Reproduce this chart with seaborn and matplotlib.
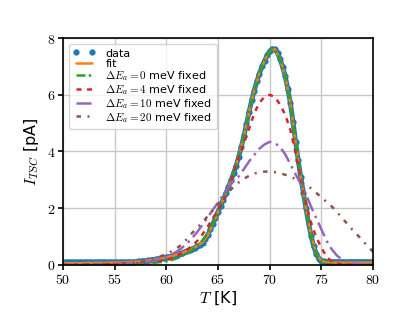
import numpy as np
import matplotlib
matplotlib.use("Agg")
import matplotlib.pyplot as plt
from matplotlib.ticker import FuncFormatter
import seaborn as sns

# measured TSC data, 0.25 K steps from 50 K to 80 K
temp_data = np.arange(50.0, 80.001, 0.25)
i_data = [
    0.10, 0.10, 0.10, 0.10, 0.10, 0.10, 0.10, 0.10, 0.10, 0.10, 0.10, 0.10, 0.10, 0.10,
    0.10, 0.10, 0.10, 0.10, 0.10, 0.10, 0.10, 0.10, 0.10, 0.10, 0.10, 0.10, 0.10, 0.10,
    0.11, 0.12, 0.13, 0.14, 0.15, 0.16, 0.17, 0.18, 0.20, 0.22, 0.24, 0.25,
    0.27, 0.29, 0.31, 0.33, 0.36, 0.39, 0.42, 0.45, 0.48, 0.52, 0.56, 0.61,
    0.66, 0.70, 0.78, 0.90, 1.05, 1.25, 1.45, 1.66, 1.88, 2.09, 2.30, 2.52,
    2.75, 2.98, 3.23, 3.50, 3.82, 4.17, 4.55, 4.97, 5.40, 5.80, 6.15, 6.47,
    6.75, 7.00, 7.20, 7.40, 7.53, 7.62, 7.60, 7.48, 7.25, 6.98, 6.65, 6.20,
    5.70, 5.05, 4.35, 3.70, 3.10, 2.55, 2.00, 1.48, 1.02, 0.65, 0.40, 0.22,
    0.15, 0.12, 0.11,
    0.11, 0.11, 0.11, 0.11, 0.11, 0.11, 0.11, 0.11, 0.11, 0.11, 0.11, 0.11,
    0.11, 0.11, 0.11, 0.11, 0.11, 0.11,
]

# model curves, 0.5 K steps
temp_model = np.arange(50.0, 80.001, 0.5)
i_fit = [
    0.06, 0.06, 0.06, 0.06, 0.06, 0.07, 0.07, 0.07, 0.07, 0.08, 0.08, 0.08, 0.09, 0.10,
    0.11, 0.13, 0.15, 0.17, 0.20, 0.23, 0.27, 0.31, 0.36, 0.42, 0.49, 0.57, 0.67, 0.80,
    1.04, 1.44, 1.88, 2.31, 2.76, 3.24, 3.82, 4.55, 5.40, 6.15, 6.76, 7.22, 7.53, 7.61,
    7.26, 6.64, 5.70, 4.36, 3.10, 2.00, 1.02, 0.40, 0.14, 0.09, 0.08, 0.08, 0.08, 0.08,
    0.08, 0.08, 0.08, 0.08, 0.08,
]
i_de0 = [
    0.00, 0.00, 0.00, 0.00, 0.00, 0.01, 0.01, 0.01, 0.01, 0.01, 0.02, 0.02, 0.02, 0.03,
    0.03, 0.04, 0.05, 0.06, 0.08, 0.10, 0.13, 0.17, 0.23, 0.31, 0.41, 0.53, 0.68, 0.87,
    1.11, 1.45, 1.86, 2.30, 2.76, 3.25, 3.82, 4.53, 5.36, 6.12, 6.74, 7.21, 7.52, 7.60,
    7.27, 6.66, 5.72, 4.38, 3.10, 1.98, 1.00, 0.38, 0.11, 0.03, 0.01, 0.00, 0.00, 0.00,
    0.00, 0.00, 0.00, 0.00, 0.00,
]
i_de4 = [
    0.00, 0.00, 0.01, 0.01, 0.01, 0.01, 0.02, 0.02, 0.02, 0.03, 0.03, 0.03, 0.04, 0.04,
    0.05, 0.07, 0.09, 0.11, 0.13, 0.15, 0.18, 0.24, 0.32, 0.42, 0.54, 0.68, 0.85, 1.08,
    1.35, 1.65, 1.93, 2.25, 2.72, 3.25, 3.80, 4.30, 4.80, 5.35, 5.72, 5.93, 6.00, 5.92,
    5.65, 5.30, 4.75, 3.95, 3.05, 2.20, 1.45, 0.98, 0.60, 0.29, 0.12, 0.05, 0.02, 0.01,
    0.00, 0.00, 0.00, 0.00, 0.00,
]
i_de10 = [
    0.00, 0.00, 0.00, 0.01, 0.01, 0.01, 0.01, 0.01, 0.02, 0.02, 0.02, 0.02, 0.03, 0.04,
    0.05, 0.07, 0.10, 0.13, 0.17, 0.22, 0.29, 0.37, 0.47, 0.60, 0.76, 0.95, 1.17, 1.42,
    1.68, 1.95, 2.20, 2.47, 2.73, 2.95, 3.12, 3.38, 3.65, 3.88, 4.10, 4.25, 4.34, 4.30,
    4.15, 3.90, 3.55, 3.20, 2.85, 2.50, 2.05, 1.65, 1.25, 0.85, 0.55, 0.33, 0.19, 0.10,
    0.05, 0.03, 0.02, 0.01, 0.01,
]
i_de20 = [
    0.00, 0.00, 0.01, 0.01, 0.01, 0.01, 0.02, 0.02, 0.03, 0.03, 0.04, 0.05, 0.06, 0.07,
    0.09, 0.12, 0.16, 0.20, 0.25, 0.31, 0.39, 0.48, 0.59, 0.72, 0.92, 1.13, 1.32, 1.51,
    1.72, 1.92, 2.15, 2.38, 2.57, 2.75, 2.91, 3.04, 3.14, 3.22, 3.27, 3.29, 3.29, 3.27,
    3.23, 3.18, 3.11, 3.03, 2.93, 2.81, 2.70, 2.54, 2.38, 2.22, 2.06, 1.87, 1.65, 1.45,
    1.24, 1.05, 0.85, 0.65, 0.46,
]

labels = [
    "data",
    "fit",
    r"$\Delta E_a = 0$ meV fixed",
    r"$\Delta E_a = 4$ meV fixed",
    r"$\Delta E_a = 10$ meV fixed",
    r"$\Delta E_a = 20$ meV fixed",
]


def plot_data():
    sns.set_theme(style="whitegrid", rc={
        "axes.edgecolor": "black",
        "axes.linewidth": 1.2,
        "grid.color": "#c8c8c8",
        "grid.linewidth": 1.0,
        "xtick.bottom": True,
        "ytick.left": True,
        "xtick.direction": "out",
        "ytick.direction": "out",
        "xtick.major.size": 3.5,
        "ytick.major.size": 3.5,
        "xtick.major.width": 1.2,
        "ytick.major.width": 1.2,
        "xtick.color": "black",
        "ytick.color": "black",
        "axes.labelcolor": "black",
        "text.color": "black",
    })
    plt.rcParams["font.family"] = ["DejaVu Sans"]
    plt.rcParams["mathtext.fontset"] = "cm"

    colors = sns.color_palette("tab10")
    fig, ax = plt.subplots(figsize=(4.15, 3.12), dpi=100)
    fig.subplots_adjust(left=0.152, right=0.899, bottom=0.151, top=0.878)

    # data: thick band plus dots
    sns.lineplot(x=temp_data, y=i_data, ax=ax, color=colors[0], lw=3.5,
                 estimator=None, sort=False, legend=False)
    sns.lineplot(x=temp_data, y=i_data, ax=ax, color=colors[0], linestyle="none",
                 marker="o", markersize=4.5, markeredgewidth=0,
                 estimator=None, sort=False, label=labels[0])

    sns.lineplot(x=temp_model, y=i_fit, ax=ax, color=colors[1], lw=1.8,
                 estimator=None, sort=False, label=labels[1])
    sns.lineplot(x=temp_model, y=i_de0, ax=ax, color=colors[2], lw=1.8,
                 linestyle=(0, (3.6, 1.3, 1.0, 1.3)), estimator=None, sort=False,
                 label=labels[2])
    sns.lineplot(x=temp_model, y=i_de4, ax=ax, color=colors[3], lw=1.8,
                 linestyle=(0, (2.0, 2.2)), estimator=None, sort=False, label=labels[3])
    sns.lineplot(x=temp_model, y=i_de10, ax=ax, color=colors[4], lw=1.8,
                 linestyle=(0, (6, 2, 1, 2)), estimator=None, sort=False, label=labels[4])
    sns.lineplot(x=temp_model, y=i_de20, ax=ax, color=colors[5], lw=1.8,
                 linestyle=(0, (1.8, 2.6, 0.8, 2.6)), estimator=None, sort=False,
                 label=labels[5])

    ax.set_xlim(50, 80)
    ax.set_ylim(0, 8)
    ax.set_xticks([50, 55, 60, 65, 70, 75, 80])
    ax.set_yticks([0, 2, 4, 6, 8])
    fmt = FuncFormatter(lambda v, p: f"${v:g}$")
    ax.xaxis.set_major_formatter(fmt)
    ax.yaxis.set_major_formatter(fmt)
    ax.tick_params(labelsize=10, pad=2)
    ax.set_xlabel(r"$T$ [K]", fontsize=11.5, labelpad=2)
    ax.set_ylabel(r"$I_{TSC}$ [pA]", fontsize=11.5, labelpad=4)

    ax.legend(loc="upper left", fontsize=8.0, numpoints=2, labelspacing=0.0,
              handlelength=2.0, handleheight=0.9, handletextpad=0.9,
              borderpad=0.4, framealpha=0.8)

    fig.savefig("out.png", dpi=100)


def main():
    plot_data()


if __name__ == "__main__":
    main()
